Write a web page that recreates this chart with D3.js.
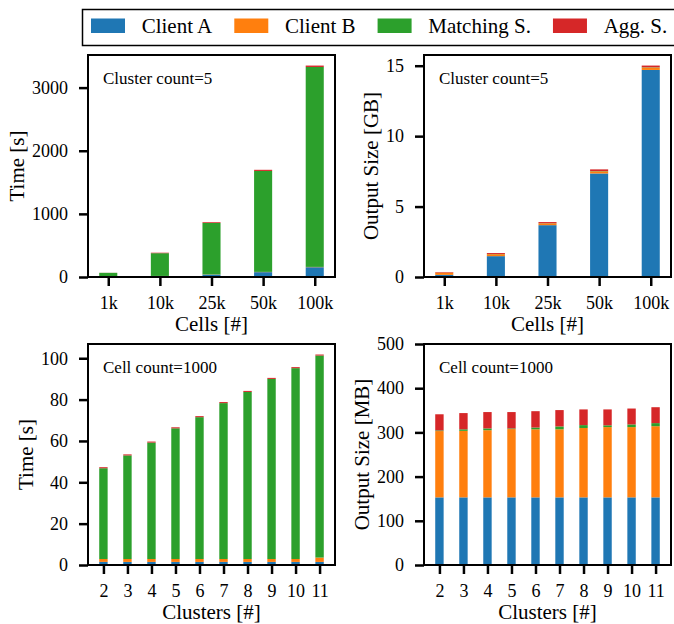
<!DOCTYPE html>
<html>
<head>
<meta charset="utf-8">
<script src="https://cdn.jsdelivr.net/npm/d3@7"></script>
<style>
body { margin: 0; background: #fff; }
svg text { font-family: "Liberation Serif", "Times New Roman", serif; }
</style>
</head>
<body>
<svg id="chart" width="674" height="624"></svg>
<script>
//----------DATA----------

var seriesNames = ['Client A', 'Client B', 'Matching S.', 'Agg. S.'];
var seriesColors = ['#1f77b4', '#ff7f0e', '#2ca02c', '#d62728'];

var cellLabels = ['1k', '10k', '25k', '50k', '100k'];
var clusterLabels = ['2', '3', '4', '5', '6', '7', '8', '9', '10', '11'];

// time [s] per cell count, 5 clusters
var cellTimeA = [1.5, 15, 38, 77, 155];
var cellTimeB = [1.5, 2, 3, 4, 5];
var cellTimeM = [63, 360, 815, 1599, 3167];
var cellTimeG = [1, 8, 12, 18, 22];

// output size [GB] per cell count, 5 clusters
var cellSizeA = [0.153, 1.48, 3.68, 7.35, 14.7];
var cellSizeB = [0.155, 0.14, 0.13, 0.15, 0.17];
var cellSizeM = [0.002, 0.01, 0.01, 0.02, 0.02];
var cellSizeG = [0.037, 0.07, 0.08, 0.12, 0.12];

// time [s] per cluster count, 1000 cells
var clusterTimeA = [1.5, 1.5, 1.5, 1.5, 1.5, 1.5, 1.5, 1.5, 1.5, 1.5];
var clusterTimeB = [1.4, 1.4, 1.4, 1.4, 1.4, 1.4, 1.4, 1.4, 1.4, 2.1];
var clusterTimeM = [43.9, 50.1, 56.3, 63.2, 68.6, 75.4, 80.8, 87.1, 92.3, 97.7];
var clusterTimeG = [0.5, 0.5, 0.5, 0.5, 0.5, 0.5, 0.5, 0.5, 0.5, 0.5];

// output size [MB] per cluster count, 1000 cells
var clusterSizeA = [153, 153, 153, 153, 153, 153, 153, 153, 153, 153];
var clusterSizeB = [150, 150.5, 152, 154.5, 154, 154, 157, 159, 159, 161];
var clusterSizeM = [1.5, 3.5, 4, 1.5, 4, 6.5, 6.5, 4, 6, 7];
var clusterSizeG = [36.5, 36.7, 37, 37, 37, 37, 35.5, 36, 36, 36];

var timeTicksCells = [0, 1000, 2000, 3000];
var sizeTicksCells = [0, 5, 10, 15];
var timeTicksClusters = [0, 20, 40, 60, 80, 100];
var sizeTicksClusters = [0, 100, 200, 300, 400, 500];

//----------LAYOUT----------

var barWidth = 0.35;
var svg = d3.select('#chart');

var panels = [
    {x0: 88, y0: 55, w: 247, h: 222, cats: cellLabels,
     series: [cellTimeA, cellTimeB, cellTimeM, cellTimeG],
     yTicks: timeTicksCells, yMax: null, fmt: d3.format('d'),
     ylabel: 'Time [s]', xlabel: 'Cells [#]', note: 'Cluster count=5'},
    {x0: 424, y0: 55, w: 247, h: 222, cats: cellLabels,
     series: [cellSizeA, cellSizeB, cellSizeM, cellSizeG],
     yTicks: sizeTicksCells, yMax: null, fmt: d3.format('d'),
     ylabel: 'Output Size [GB]', xlabel: 'Cells [#]', note: 'Cluster count=5'},
    {x0: 88, y0: 344, w: 247, h: 221, cats: clusterLabels,
     series: [clusterTimeA, clusterTimeB, clusterTimeM, clusterTimeG],
     yTicks: timeTicksClusters, yMax: null, fmt: d3.format('d'),
     ylabel: 'Time [s]', xlabel: 'Clusters [#]', note: 'Cell count=1000'},
    {x0: 424, y0: 344, w: 247, h: 221, cats: clusterLabels,
     series: [clusterSizeA, clusterSizeB, clusterSizeM, clusterSizeG],
     yTicks: sizeTicksClusters, yMax: 500, fmt: d3.format('d'),
     ylabel: 'Output Size [MB]', xlabel: 'Clusters [#]', note: 'Cell count=1000'}
];

//----------DRAWING----------

function drawPanel(p) {
    var n = p.cats.length;
    var rows = p.cats.map(function(c, i) {
        var r = {cat: c, idx: i};
        seriesNames.forEach(function(s, k) { r[s] = p.series[k][i]; });
        return r;
    });
    var stacked = d3.stack().keys(seriesNames)(rows);

    // matplotlib style autoscale: 5% margins
    var span = n - 1 + barWidth;
    var x = d3.scaleLinear()
        .domain([-barWidth / 2 - 0.05 * span, n - 1 + barWidth / 2 + 0.05 * span])
        .range([0, p.w]);
    var top = p.yMax !== null ? p.yMax : d3.max(stacked[stacked.length - 1], function(d) { return d[1]; }) * 1.05;
    var y = d3.scaleLinear().domain([0, top]).range([p.h, 0]);

    var g = svg.append('g').attr('transform', 'translate(' + p.x0 + ',' + p.y0 + ')');

    g.selectAll('g.layer')
        .data(stacked)
        .enter().append('g')
        .attr('class', 'layer')
        .attr('fill', function(d, k) { return seriesColors[k]; })
        .selectAll('rect')
        .data(function(d) { return d; })
        .enter().append('rect')
        .attr('x', function(d) { return x(d.data.idx - barWidth / 2); })
        .attr('width', function(d) { return x(d.data.idx + barWidth / 2) - x(d.data.idx - barWidth / 2); })
        .attr('y', function(d) { return y(d[1]); })
        .attr('height', function(d) { return Math.max(0, y(d[0]) - y(d[1])); });

    var yAxis = g.append('g')
        .call(d3.axisLeft(y).tickValues(p.yTicks).tickFormat(p.fmt).tickSize(9).tickPadding(11));
    var xAxis = g.append('g')
        .attr('transform', 'translate(0,' + p.h + ')')
        .call(d3.axisBottom(x).tickValues(d3.range(n))
            .tickFormat(function(i) { return p.cats[i]; }).tickSize(9).tickPadding(10));

    [yAxis, xAxis].forEach(function(a) {
        a.select('.domain').remove();
        a.selectAll('line').attr('stroke', '#000').attr('stroke-width', 2.5);
        a.selectAll('text').attr('fill', '#000').attr('font-size', 18);
    });

    // frame on top of bars
    g.append('rect')
        .attr('width', p.w).attr('height', p.h)
        .attr('fill', 'none').attr('stroke', '#000').attr('stroke-width', 2);

    g.append('text')
        .attr('x', 15).attr('y', 29)
        .attr('font-size', 17)
        .text(p.note);

    g.append('text')
        .attr('x', p.w / 2).attr('y', p.h + 54)
        .attr('text-anchor', 'middle')
        .attr('font-size', 21)
        .text(p.xlabel);

    var bb = yAxis.node().getBBox();
    g.append('text')
        .attr('transform', 'translate(' + (bb.x - 8) + ',' + (p.h / 2) + ') rotate(-90)')
        .attr('text-anchor', 'middle')
        .attr('font-size', 21)
        .text(p.ylabel);
}

panels.forEach(drawPanel);

//----------LEGEND----------

var legend = svg.append('g');
legend.append('rect')
    .attr('x', 82.5).attr('y', 9.5)
    .attr('width', 596).attr('height', 36)
    .attr('fill', '#fff').attr('stroke', '#000').attr('stroke-width', 1.5);

var cursor = 91;
seriesNames.forEach(function(s, k) {
    legend.append('rect')
        .attr('x', cursor).attr('y', 18.5)
        .attr('width', 34).attr('height', 14.5)
        .attr('fill', seriesColors[k]);
    var t = legend.append('text')
        .attr('x', cursor + 50.7).attr('y', 33)
        .attr('font-size', 21)
        .text(s);
    cursor = cursor + 50.7 + t.node().getComputedTextLength() + 22;
});
</script>
</body>
</html>
